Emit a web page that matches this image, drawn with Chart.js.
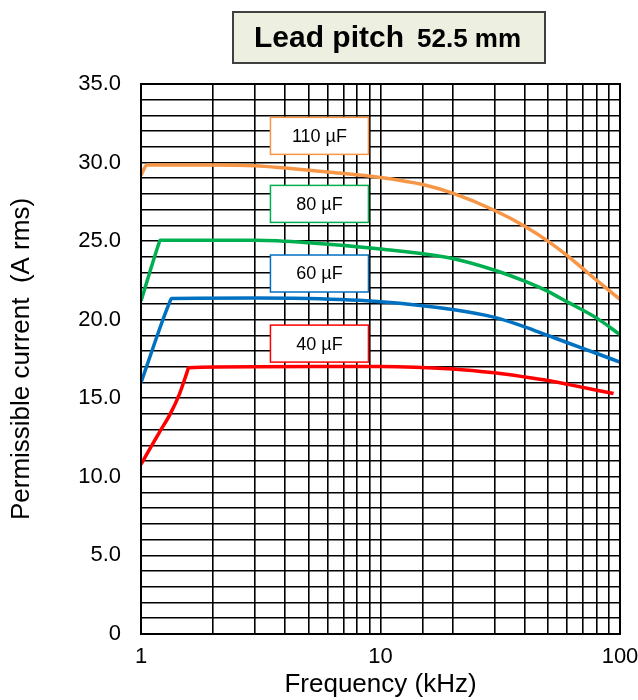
<!DOCTYPE html>
<html>
<head>
<meta charset="utf-8">
<script src="https://cdn.jsdelivr.net/npm/chart.js@4.4.1/dist/chart.umd.min.js"></script>
<style>
    html, body { margin: 0; padding: 0; background: #fff; }
    #wrap { width: 638px; height: 700px; }
</style>
</head>
<body>
<div id="wrap"><canvas id="chart" width="638" height="700"></canvas></div>
<script>
// series: frequency in kHz, current in A rms
const freq110 = [1, 1.06, 2, 3, 4, 6, 10, 15, 20, 30, 40, 50, 60, 70, 80, 100];
const amp110 = [29.2, 29.85, 29.85, 29.8, 29.65, 29.4, 29.05, 28.6, 28.05, 26.95, 25.95, 25.0, 24.1, 23.25, 22.5, 21.3];

const freq80 = [1, 1.19, 1.2, 3, 5, 10, 20, 30, 40, 50, 60, 80, 100];
const amp80 = [21.2, 24.9, 25.05, 25.05, 24.9, 24.5, 23.9, 23.15, 22.45, 21.8, 21.15, 20.1, 19.05];

const freq60 = [1, 1.32, 1.34, 3, 5, 10, 20, 30, 40, 50, 60, 80, 100];
const amp60 = [16.0, 21.15, 21.35, 21.38, 21.35, 21.15, 20.65, 20.15, 19.55, 19.0, 18.55, 17.85, 17.3];

const freq40 = [1, 1.09, 1.2, 1.32, 1.45, 1.56, 1.58, 3, 10, 20, 30, 40, 50, 60, 94];
const amp40 = [10.8, 11.8, 12.9, 13.96, 15.3, 16.7, 16.95, 17.0, 17.03, 16.87, 16.62, 16.36, 16.13, 15.9, 15.3];

const seriesNames = ['110 µF', '80 µF', '60 µF', '40 µF'];
const seriesColors = ['#F79646', '#00B050', '#0070C0', '#FF0000'];

const xTickLabels = [1, 10, 100];
const yTickLabels = [0, 5, 10, 15, 20, 25, 30, 35];

const titleMain = 'Lead pitch';
const titleSub = '52.5 mm';

const FONT = '"Liberation Sans", Arial, sans-serif';
Chart.defaults.font.family = FONT;
Chart.defaults.color = '#000';

const pairs = (xs, ys) => xs.map((f, i) => ({ x: f, y: ys[i] }));
const seriesData = [pairs(freq110, amp110), pairs(freq80, amp80), pairs(freq60, amp60), pairs(freq40, amp40)];

// where the little name tags sit (in axis units)
const tagFreq = 5.56;
const tagAmp = [31.7, 27.37, 22.94, 18.48];

const overlay = {
    id: 'overlay',
    afterDatasetsDraw(chart) {
        const { ctx, chartArea: a, scales: { x, y } } = chart;
        ctx.save();

        // heavier frame round the plot
        ctx.strokeStyle = '#000';
        ctx.lineWidth = 2;
        ctx.strokeRect(a.left, a.top, a.right - a.left, a.bottom - a.top);

        // name tags
        ctx.font = '18px ' + FONT;
        ctx.textAlign = 'center';
        ctx.textBaseline = 'middle';
        seriesNames.forEach((name, i) => {
            const cx = x.getPixelForValue(tagFreq);
            const cy = y.getPixelForValue(tagAmp[i]);
            ctx.fillStyle = '#fff';
            ctx.fillRect(cx - 49, cy - 18.5, 98, 37);
            ctx.strokeStyle = seriesColors[i];
            ctx.lineWidth = 1.5;
            ctx.strokeRect(cx - 49, cy - 18.5, 98, 37);
            ctx.fillStyle = '#000';
            ctx.fillText(name, cx, cy + 1);
        });

        // title box
        ctx.fillStyle = '#EDEFE0';
        ctx.fillRect(233, 12, 312, 51);
        ctx.strokeStyle = '#404040';
        ctx.lineWidth = 2;
        ctx.strokeRect(233, 12, 312, 51);
        ctx.fillStyle = '#000';
        ctx.textAlign = 'left';
        ctx.textBaseline = 'alphabetic';
        ctx.font = 'bold 30px ' + FONT;
        ctx.fillText(titleMain, 254, 47);
        ctx.font = 'bold 26px ' + FONT;
        ctx.fillText(titleSub, 417, 47);

        ctx.restore();
    }
};

new Chart(document.getElementById('chart'), {
    type: 'scatter',
    data: {
        datasets: seriesData.map((d, i) => ({
            label: seriesNames[i],
            data: d,
            showLine: true,
            borderColor: seriesColors[i],
            backgroundColor: seriesColors[i],
            borderWidth: 3.5,
            pointRadius: 0,
            cubicInterpolationMode: 'monotone',
            fill: false,
        })),
    },
    options: {
        responsive: false,
        animation: false,
        layout: { padding: { top: 84, right: 18, left: 0, bottom: 0 } },
        scales: {
            x: {
                type: 'logarithmic',
                min: 1,
                max: 100,
                afterFit: (s) => {
                    s.height = 66;
                    s.paddingLeft = 0;
                    s.paddingRight = 0;
                },
                grid: { color: '#000', lineWidth: 1.6, drawTicks: false },
                border: { display: true, color: '#000', width: 2 },
                ticks: {
                    autoSkip: false,
                    maxRotation: 0,
                    padding: 10,
                    font: { size: 22 },
                    callback: (v) => xTickLabels.some(t => Math.abs(t - v) < 1e-9) ? String(v) : '',
                },
                title: {
                    display: true,
                    text: 'Frequency (kHz)',
                    font: { size: 26 },
                    padding: { top: 0, bottom: 0 },
                },
            },
            y: {
                min: 0,
                max: 35,
                afterFit: (s) => { s.width = 141; },
                grid: { color: '#000', lineWidth: 1.6, drawTicks: false },
                border: { display: true, color: '#000', width: 2 },
                ticks: {
                    stepSize: 1,
                    autoSkip: false,
                    padding: 20,
                    font: { size: 22 },
                    callback: (v) => yTickLabels.includes(v) ? (v === 0 ? '0' : v.toFixed(1)) : '',
                },
                title: {
                    display: true,
                    text: 'Permissible current  (A rms)',
                    font: { size: 26 },
                    padding: { top: 6, bottom: 0 },
                },
            },
        },
        plugins: {
            legend: { display: false },
            tooltip: { enabled: false },
        },
    },
    plugins: [overlay],
});
</script>
</body>
</html>
